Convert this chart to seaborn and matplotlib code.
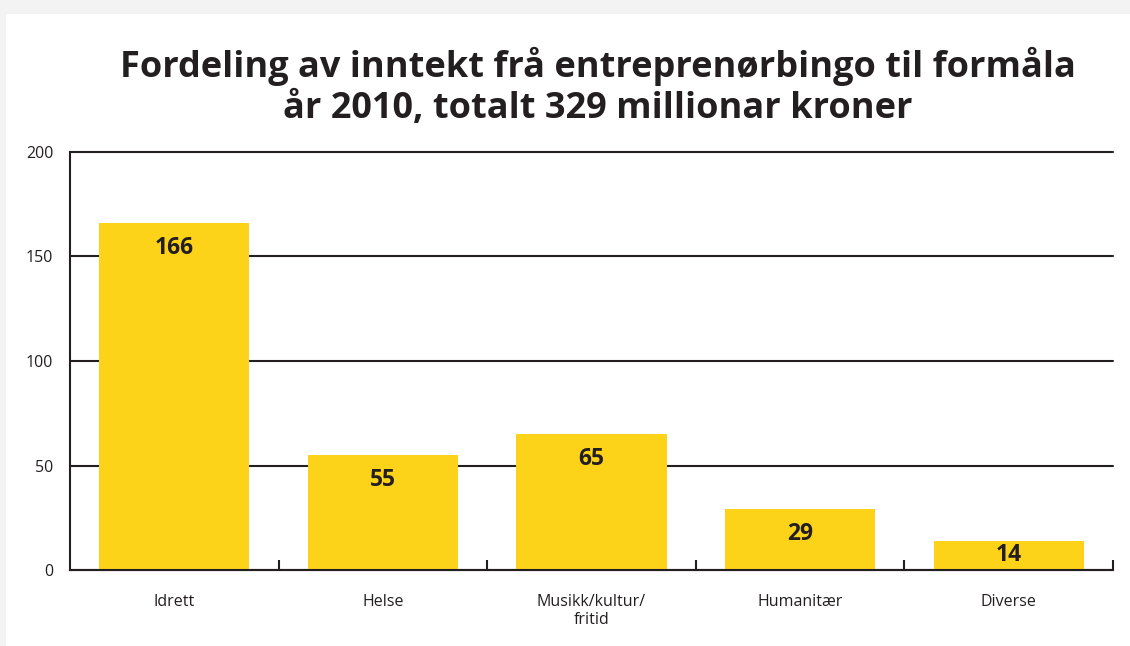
import matplotlib
matplotlib.use('Agg')
import matplotlib.pyplot as plt
import seaborn as sns
import pandas as pd
from matplotlib.patches import Rectangle

# data
categories = ['Idrett', 'Helse', 'Musikk/kultur/\nfritid', 'Humanitær', 'Diverse']
values = [166, 55, 65, 29, 14]
yticks = [0, 50, 100, 150, 200]

title = 'Fordeling av inntekt frå entreprenørbingo til formåla\når 2010, totalt 329 millionar kroner'

yellow = '#fdd31a'
ink = '#231f20'

sns.set_theme(style='white')
plt.rcParams['font.family'] = ['Open Sans', 'DejaVu Sans']

df = pd.DataFrame({'kategori': categories, 'verdi': values})

fig = plt.figure(figsize=(11.3, 6.46), dpi=100)
fig.patch.set_facecolor('#f3f3f3')
# white card behind everything
fig.add_artist(Rectangle((6 / 1130, 0), 1, 1 - 14 / 646, transform=fig.transFigure,
                         facecolor='white', edgecolor='none', zorder=-10))

ax = fig.add_axes([70 / 1130, 1 - 570 / 646, (1113 - 70) / 1130, (570 - 152) / 646])
ax.set_facecolor('none')

sns.barplot(data=df, x='kategori', y='verdi', color=yellow, saturation=1,
            width=0.72, linewidth=0, ax=ax, zorder=2)

ax.set_xlim(-0.5, len(categories) - 0.5)
ax.set_ylim(0, 200)
ax.set_yticks(yticks)
ax.set_yticklabels([str(t) for t in yticks], fontsize=11.5, color=ink)
ax.set_xlabel('')
ax.set_ylabel('')
ax.set_xticks(range(len(categories)))
ax.set_xticklabels(categories, fontsize=11.5, color=ink, linespacing=1.2)
ax.set_xticks([i + 0.5 for i in range(len(categories))], minor=True)
ax.tick_params(axis='x', which='major', length=0, pad=17)
ax.tick_params(axis='x', which='minor', length=7, width=1.5, direction='in', color=ink, bottom=True)
ax.tick_params(axis='y', length=0, pad=12)

ax.yaxis.grid(True, color=ink, linewidth=1.5)
for gl in ax.get_ygridlines():
    gl.set_clip_on(False)
ax.set_axisbelow(True)
for s in ['top', 'right']:
    ax.spines[s].set_visible(False)
for s in ['left', 'bottom']:
    ax.spines[s].set_color(ink)
    ax.spines[s].set_linewidth(1.5)
    ax.spines[s].set_zorder(3)

for i, v in enumerate(values):
    y = max(v - 12, v / 2)
    ax.text(i, y, str(v), ha='center', va='center', fontsize=16.5, fontweight='bold',
            color=ink, zorder=4)

fig.text(598 / 1130, 1 - 87 / 646, title, ha='center', va='center', fontsize=26,
         fontweight='bold', color=ink, linespacing=1.2)

fig.savefig('out.png', dpi=100, facecolor=fig.get_facecolor())
